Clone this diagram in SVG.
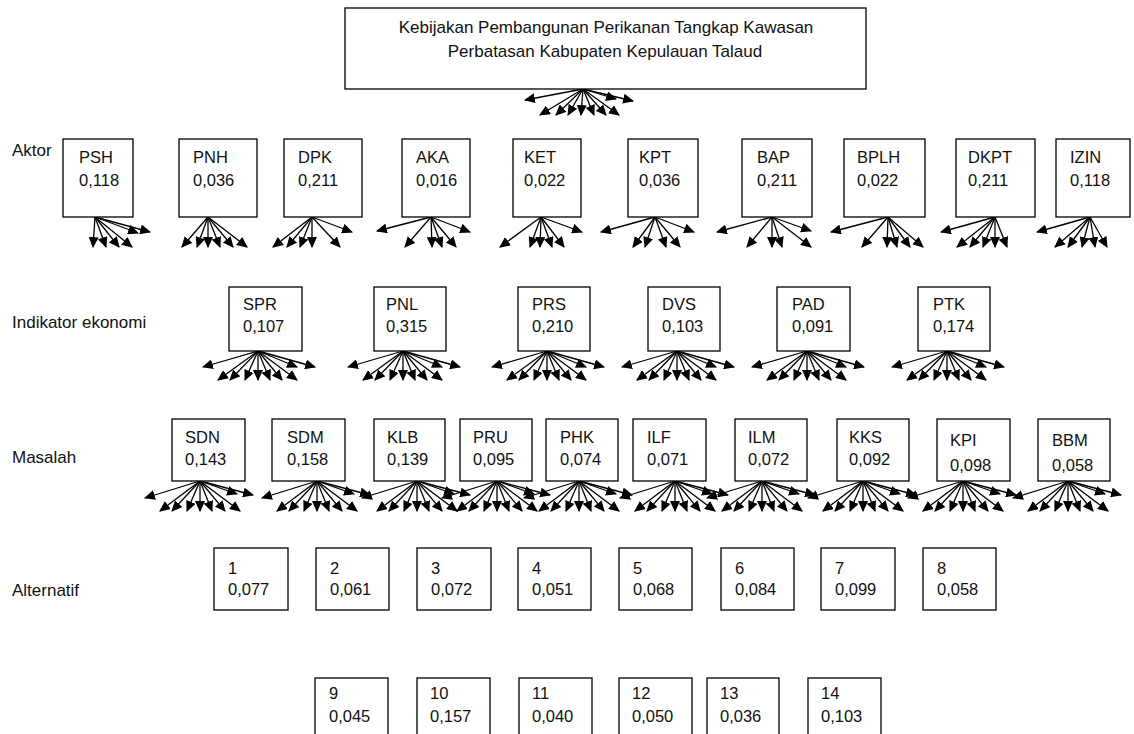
<svg xmlns="http://www.w3.org/2000/svg" width="1134" height="734" viewBox="0 0 1134 734">
<style>
text{font-family:"Liberation Sans",Arial,sans-serif;fill:#111;font-size:16.5px}
.t{font-size:17px;text-anchor:middle}
.lb{font-size:17px}
rect{fill:#fff;stroke:#000;stroke-width:1.3}
#connectors line{stroke:#000;stroke-width:1.3;marker-end:url(#ah)}
</style>
<defs>
<marker id="ah" viewBox="0 0 10 10" refX="9" refY="5" markerWidth="11" markerHeight="10" markerUnits="userSpaceOnUse" orient="auto" preserveAspectRatio="none"><path d="M0,0L10,5L0,10z" fill="#000"/></marker>
</defs>
<text class="lb" x="12" y="156">Aktor</text>
<text class="lb" x="12" y="328">Indikator ekonomi</text>
<text class="lb" x="12" y="463">Masalah</text>
<text class="lb" x="12" y="596">Alternatif</text>

<g id="connectors">
<g transform="translate(583,89)">
<line x2="-58" y2="11"/><line x2="-43" y2="26"/><line x2="-27" y2="26"/><line x2="-15" y2="26"/><line x2="-2" y2="26"/><line x2="11" y2="26"/><line x2="23" y2="26"/><line x2="36" y2="26"/><line x2="33" y2="10"/><line x2="50" y2="12"/>
</g>
<line x1="95" y1="217" x2="93" y2="247"/><line x1="95" y1="217" x2="106" y2="247"/><line x1="95" y1="217" x2="119" y2="247"/><line x1="95" y1="217" x2="132" y2="247"/><line x1="95" y1="217" x2="138" y2="233"/><line x1="95" y1="217" x2="150" y2="232"/>
<line x1="208" y1="217" x2="182" y2="247"/><line x1="208" y1="217" x2="197" y2="247"/><line x1="208" y1="217" x2="208" y2="247"/><line x1="208" y1="217" x2="220" y2="247"/><line x1="208" y1="217" x2="233" y2="247"/><line x1="208" y1="217" x2="247" y2="247"/>
<line x1="312" y1="217" x2="273" y2="247"/><line x1="312" y1="217" x2="287" y2="247"/><line x1="312" y1="217" x2="300" y2="247"/><line x1="312" y1="217" x2="312" y2="247"/><line x1="312" y1="217" x2="340" y2="247"/><line x1="312" y1="217" x2="352" y2="232"/>
<line x1="431" y1="217" x2="377" y2="231"/><line x1="431" y1="217" x2="405" y2="247"/><line x1="431" y1="217" x2="432" y2="247"/><line x1="431" y1="217" x2="442" y2="247"/><line x1="431" y1="217" x2="456" y2="247"/><line x1="431" y1="217" x2="470" y2="232"/>
<line x1="541" y1="217" x2="500" y2="247"/><line x1="541" y1="217" x2="530" y2="247"/><line x1="541" y1="217" x2="540" y2="247"/><line x1="541" y1="217" x2="552" y2="247"/><line x1="541" y1="217" x2="564" y2="247"/><line x1="541" y1="217" x2="582" y2="232"/>
<line x1="655" y1="217" x2="601" y2="232"/><line x1="655" y1="217" x2="633" y2="247"/><line x1="655" y1="217" x2="645" y2="247"/><line x1="655" y1="217" x2="666" y2="247"/><line x1="655" y1="217" x2="680" y2="247"/><line x1="655" y1="217" x2="694" y2="232"/>
<line x1="772" y1="217" x2="717" y2="232"/><line x1="772" y1="217" x2="747" y2="247"/><line x1="772" y1="217" x2="772" y2="247"/><line x1="772" y1="217" x2="782" y2="247"/><line x1="772" y1="217" x2="811" y2="231"/><line x1="772" y1="217" x2="811" y2="247"/>
<line x1="888" y1="217" x2="831" y2="232"/><line x1="888" y1="217" x2="862" y2="247"/><line x1="888" y1="217" x2="887" y2="247"/><line x1="888" y1="217" x2="897" y2="247"/><line x1="888" y1="217" x2="910" y2="247"/><line x1="888" y1="217" x2="923" y2="247"/>
<line x1="995" y1="217" x2="941" y2="232"/><line x1="995" y1="217" x2="957" y2="247"/><line x1="995" y1="217" x2="970" y2="247"/><line x1="995" y1="217" x2="983" y2="247"/><line x1="995" y1="217" x2="995" y2="247"/><line x1="995" y1="217" x2="1007" y2="247"/>
<line x1="1090" y1="217" x2="1037" y2="232"/><line x1="1090" y1="217" x2="1055" y2="247"/><line x1="1090" y1="217" x2="1068" y2="247"/><line x1="1090" y1="217" x2="1082" y2="247"/><line x1="1090" y1="217" x2="1095" y2="247"/><line x1="1090" y1="217" x2="1107" y2="247"/>

<g transform="translate(258,351)"><line x2="-55" y2="16"/><line x2="-40" y2="29"/><line x2="-28" y2="29"/><line x2="-13" y2="29"/><line x2="0" y2="29"/><line x2="12" y2="29"/><line x2="24" y2="29"/><line x2="39" y2="29"/><line x2="39" y2="16"/><line x2="57" y2="16"/></g>
<g transform="translate(403,351)"><line x2="-55" y2="16"/><line x2="-40" y2="29"/><line x2="-28" y2="29"/><line x2="-13" y2="29"/><line x2="0" y2="29"/><line x2="12" y2="29"/><line x2="24" y2="29"/><line x2="39" y2="29"/><line x2="39" y2="16"/><line x2="57" y2="16"/></g>
<g transform="translate(547,351)"><line x2="-55" y2="16"/><line x2="-40" y2="29"/><line x2="-28" y2="29"/><line x2="-13" y2="29"/><line x2="0" y2="29"/><line x2="12" y2="29"/><line x2="24" y2="29"/><line x2="39" y2="29"/><line x2="39" y2="16"/><line x2="57" y2="16"/></g>
<g transform="translate(677,351)"><line x2="-55" y2="16"/><line x2="-40" y2="29"/><line x2="-28" y2="29"/><line x2="-13" y2="29"/><line x2="0" y2="29"/><line x2="12" y2="29"/><line x2="24" y2="29"/><line x2="39" y2="29"/><line x2="39" y2="16"/><line x2="57" y2="16"/></g>
<g transform="translate(807,351)"><line x2="-55" y2="16"/><line x2="-40" y2="29"/><line x2="-28" y2="29"/><line x2="-13" y2="29"/><line x2="0" y2="29"/><line x2="12" y2="29"/><line x2="24" y2="29"/><line x2="39" y2="29"/><line x2="39" y2="16"/><line x2="57" y2="16"/></g>
<g transform="translate(947,351)"><line x2="-55" y2="16"/><line x2="-40" y2="29"/><line x2="-28" y2="29"/><line x2="-13" y2="29"/><line x2="0" y2="29"/><line x2="12" y2="29"/><line x2="24" y2="29"/><line x2="39" y2="29"/><line x2="39" y2="16"/><line x2="57" y2="16"/></g>

<g transform="translate(200,481)"><line x2="-55" y2="17"/><line x2="-40" y2="30"/><line x2="-28" y2="30"/><line x2="-13" y2="30"/><line x2="0" y2="30"/><line x2="12" y2="30"/><line x2="25" y2="30"/><line x2="40" y2="30"/><line x2="37" y2="13"/><line x2="53" y2="14"/></g>
<g transform="translate(317,481)"><line x2="-55" y2="17"/><line x2="-40" y2="30"/><line x2="-28" y2="30"/><line x2="-13" y2="30"/><line x2="0" y2="30"/><line x2="12" y2="30"/><line x2="25" y2="30"/><line x2="40" y2="30"/><line x2="37" y2="13"/><line x2="53" y2="14"/></g>
<g transform="translate(417,481)"><line x2="-55" y2="17"/><line x2="-40" y2="30"/><line x2="-28" y2="30"/><line x2="-13" y2="30"/><line x2="0" y2="30"/><line x2="12" y2="30"/><line x2="25" y2="30"/><line x2="40" y2="30"/><line x2="37" y2="13"/><line x2="53" y2="14"/></g>
<g transform="translate(497,481)"><line x2="-55" y2="17"/><line x2="-40" y2="30"/><line x2="-28" y2="30"/><line x2="-13" y2="30"/><line x2="0" y2="30"/><line x2="12" y2="30"/><line x2="25" y2="30"/><line x2="40" y2="30"/><line x2="37" y2="13"/><line x2="53" y2="14"/></g>
<g transform="translate(579,481)"><line x2="-55" y2="17"/><line x2="-40" y2="30"/><line x2="-28" y2="30"/><line x2="-13" y2="30"/><line x2="0" y2="30"/><line x2="12" y2="30"/><line x2="25" y2="30"/><line x2="40" y2="30"/><line x2="37" y2="13"/><line x2="53" y2="14"/></g>
<g transform="translate(675,481)"><line x2="-55" y2="17"/><line x2="-40" y2="30"/><line x2="-28" y2="30"/><line x2="-13" y2="30"/><line x2="0" y2="30"/><line x2="12" y2="30"/><line x2="25" y2="30"/><line x2="40" y2="30"/><line x2="37" y2="13"/><line x2="53" y2="14"/></g>
<g transform="translate(762,481)"><line x2="-55" y2="17"/><line x2="-40" y2="30"/><line x2="-28" y2="30"/><line x2="-13" y2="30"/><line x2="0" y2="30"/><line x2="12" y2="30"/><line x2="25" y2="30"/><line x2="40" y2="30"/><line x2="37" y2="13"/><line x2="53" y2="14"/></g>
<g transform="translate(863,481)"><line x2="-55" y2="17"/><line x2="-40" y2="30"/><line x2="-28" y2="30"/><line x2="-13" y2="30"/><line x2="0" y2="30"/><line x2="12" y2="30"/><line x2="25" y2="30"/><line x2="40" y2="30"/><line x2="37" y2="13"/><line x2="53" y2="14"/></g>
<g transform="translate(963,481)"><line x2="-55" y2="17"/><line x2="-40" y2="30"/><line x2="-28" y2="30"/><line x2="-13" y2="30"/><line x2="0" y2="30"/><line x2="12" y2="30"/><line x2="25" y2="30"/><line x2="40" y2="30"/><line x2="37" y2="13"/><line x2="53" y2="14"/></g>
<g transform="translate(1068,481)"><line x2="-55" y2="17"/><line x2="-40" y2="30"/><line x2="-28" y2="30"/><line x2="-13" y2="30"/><line x2="0" y2="30"/><line x2="12" y2="30"/><line x2="25" y2="30"/><line x2="40" y2="30"/><line x2="37" y2="13"/><line x2="53" y2="14"/></g>
</g>

<g id="goal"><rect x="345" y="8" width="521" height="81"/><text class="t" x="606" y="33">Kebijakan Pembangunan Perikanan Tangkap Kawasan</text><text class="t" x="605" y="57">Perbatasan Kabupaten Kepulauan Talaud</text></g>

<g id="PSH"><rect x="63" y="139" width="70" height="78"/><text x="79" y="163">PSH</text><text x="79" y="186">0,118</text></g>
<g id="PNH"><rect x="179" y="139" width="78" height="78"/><text x="193" y="163">PNH</text><text x="193" y="186">0,036</text></g>
<g id="DPK"><rect x="284" y="139" width="78" height="78"/><text x="298" y="163">DPK</text><text x="298" y="186">0,211</text></g>
<g id="AKA"><rect x="402" y="139" width="68" height="78"/><text x="416" y="163">AKA</text><text x="416" y="186">0,016</text></g>
<g id="KET"><rect x="513" y="139" width="68" height="78"/><text x="524" y="163">KET</text><text x="524" y="186">0,022</text></g>
<g id="KPT"><rect x="628" y="139" width="70" height="78"/><text x="639" y="163">KPT</text><text x="639" y="186">0,036</text></g>
<g id="BAP"><rect x="742" y="139" width="70" height="78"/><text x="757" y="163">BAP</text><text x="757" y="186">0,211</text></g>
<g id="BPLH"><rect x="844" y="139" width="81" height="78"/><text x="857" y="163">BPLH</text><text x="857" y="186">0,022</text></g>
<g id="DKPT"><rect x="956" y="139" width="79" height="78"/><text x="968" y="163">DKPT</text><text x="968" y="186">0,211</text></g>
<g id="IZIN"><rect x="1056" y="139" width="74" height="78"/><text x="1070" y="163">IZIN</text><text x="1070" y="186">0,118</text></g>

<g id="SPR"><rect x="229" y="287" width="73" height="64"/><text x="243" y="310">SPR</text><text x="243" y="332">0,107</text></g>
<g id="PNL"><rect x="374" y="287" width="72" height="64"/><text x="386" y="310">PNL</text><text x="386" y="332">0,315</text></g>
<g id="PRS"><rect x="518" y="287" width="72" height="64"/><text x="532" y="310">PRS</text><text x="532" y="332">0,210</text></g>
<g id="DVS"><rect x="648" y="287" width="72" height="64"/><text x="662" y="310">DVS</text><text x="662" y="332">0,103</text></g>
<g id="PAD"><rect x="777" y="287" width="73" height="64"/><text x="792" y="310">PAD</text><text x="792" y="332">0,091</text></g>
<g id="PTK"><rect x="918" y="287" width="72" height="64"/><text x="933" y="310">PTK</text><text x="933" y="332">0,174</text></g>

<g id="SDN"><rect x="172" y="419" width="73" height="62"/><text x="185" y="443">SDN</text><text x="185" y="465">0,143</text></g>
<g id="SDM"><rect x="272" y="419" width="73" height="62"/><text x="287" y="443">SDM</text><text x="287" y="465">0,158</text></g>
<g id="KLB"><rect x="374" y="419" width="71" height="62"/><text x="387" y="443">KLB</text><text x="387" y="465">0,139</text></g>
<g id="PRU"><rect x="460" y="419" width="72" height="62"/><text x="473" y="443">PRU</text><text x="473" y="465">0,095</text></g>
<g id="PHK"><rect x="546" y="419" width="72" height="62"/><text x="560" y="443">PHK</text><text x="560" y="465">0,074</text></g>
<g id="ILF"><rect x="633" y="419" width="73" height="62"/><text x="647" y="443">ILF</text><text x="647" y="465">0,071</text></g>
<g id="ILM"><rect x="735" y="419" width="72" height="62"/><text x="748" y="443">ILM</text><text x="748" y="465">0,072</text></g>
<g id="KKS"><rect x="837" y="419" width="72" height="62"/><text x="849" y="443">KKS</text><text x="849" y="465">0,092</text></g>
<g id="KPI"><rect x="937" y="419" width="73" height="62"/><text x="950" y="446">KPI</text><text x="950" y="471">0,098</text></g>
<g id="BBM"><rect x="1038" y="419" width="72" height="62"/><text x="1052" y="446">BBM</text><text x="1052" y="471">0,058</text></g>

<g id="A1"><rect x="214" y="548" width="74" height="62"/><text x="228" y="574">1</text><text x="228" y="595">0,077</text></g>
<g id="A2"><rect x="316" y="548" width="73" height="62"/><text x="330" y="574">2</text><text x="330" y="595">0,061</text></g>
<g id="A3"><rect x="417" y="548" width="74" height="62"/><text x="431" y="574">3</text><text x="431" y="595">0,072</text></g>
<g id="A4"><rect x="518" y="548" width="73" height="62"/><text x="532" y="574">4</text><text x="532" y="595">0,051</text></g>
<g id="A5"><rect x="619" y="548" width="73" height="62"/><text x="633" y="574">5</text><text x="633" y="595">0,068</text></g>
<g id="A6"><rect x="721" y="548" width="73" height="62"/><text x="735" y="574">6</text><text x="735" y="595">0,084</text></g>
<g id="A7"><rect x="821" y="548" width="74" height="62"/><text x="835" y="574">7</text><text x="835" y="595">0,099</text></g>
<g id="A8"><rect x="923" y="548" width="73" height="62"/><text x="937" y="574">8</text><text x="937" y="595">0,058</text></g>

<g id="A9"><rect x="315" y="678" width="73" height="62"/><text x="329" y="699">9</text><text x="329" y="722">0,045</text></g>
<g id="A10"><rect x="417" y="678" width="73" height="62"/><text x="430" y="699">10</text><text x="430" y="722">0,157</text></g>
<g id="A11"><rect x="519" y="678" width="73" height="62"/><text x="532" y="699">11</text><text x="532" y="722">0,040</text></g>
<g id="A12"><rect x="619" y="678" width="73" height="62"/><text x="632" y="699">12</text><text x="632" y="722">0,050</text></g>
<g id="A13"><rect x="707" y="678" width="72" height="62"/><text x="720" y="699">13</text><text x="720" y="722">0,036</text></g>
<g id="A14"><rect x="808" y="678" width="73" height="62"/><text x="821" y="699">14</text><text x="821" y="722">0,103</text></g>
</svg>
